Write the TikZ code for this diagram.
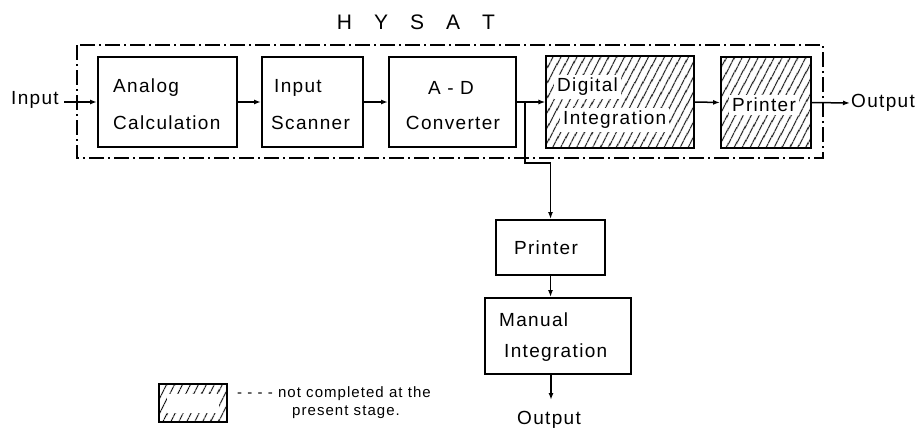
\documentclass[tikz,border=0pt]{standalone}
\usepackage{fontspec}
\newfontfamily\df{Liberation Sans}[LetterSpace=7]
\newfontfamily\tf{Liberation Sans}
\usetikzlibrary{arrows.meta,patterns.meta}
\begin{document}
\begin{tikzpicture}[x=1pt,y=-1pt,
  box/.style={draw,line width=1.9pt,minimum width=#1,inner sep=0pt},
  hatch/.style={pattern={Lines[angle=62,distance=6.5pt,line width=1.1pt]}},
  lbl/.style={font=\df\fontsize{19}{22}\selectfont,inner sep=1pt},
  wl/.style={lbl,fill=white,inner sep=3pt},
  arr/.style={line width=1.5pt,-{Latex[length=7pt,width=5pt]}},
  frame/.style={line width=1.6pt,dash pattern=on 15pt off 4pt on 2pt off 4pt}]
\useasboundingbox (0,0) rectangle (919,431);
% title
\node[font=\tf\fontsize{21}{24}\selectfont] (title) at (416,22) {H\hspace{22pt}Y\hspace{22pt}S\hspace{22pt}A\hspace{22pt}T};
% frame
\draw[frame] (77,45) rectangle (823,158);
% boxes
\node[box=139pt,minimum height=90pt] (ana) at (167.5,102) {};
\node[box=101pt,minimum height=90pt] (scan) at (312.5,102) {};
\node[box=127pt,minimum height=90pt] (adc) at (452.5,102) {};
\node[box=148pt,minimum height=92pt,hatch] (dig) at (620,102) {};
\node[box=90pt,minimum height=91pt,hatch] (pr1) at (766,102.5) {};
\node[box=109pt,minimum height=55pt] (pr2) at (550.5,247.5) {};
\node[box=146pt,minimum height=76pt] (man) at (558,336) {};
% labels
\node[lbl,anchor=west] (t1) at (112,88) {Analog};
\node[lbl,anchor=west] (t2) at (112,123) {Calculation};
\node[lbl,anchor=west] (t3) at (273,88) {Input};
\node[lbl,anchor=west] (t4) at (270,123) {Scanner};
\node[lbl] (t5) at (451,88) {A - D};
\node[lbl] (t6) at (453,123) {Converter};
\node[wl,anchor=west] (t7) at (554,87) {Digital};
\node[wl,anchor=west] (t8) at (560,120) {Integration};
\node[wl] (t9) at (764,105) {Printer};
\node[lbl] (t10) at (546,248) {Printer};
\node[lbl,anchor=west] (t11) at (498,320) {Manual};
\node[lbl,anchor=west] (t12) at (503,353) {Integration};
\node[lbl] (in) at (35,100) {Input};
\node[lbl,anchor=west] (out1) at (850,103) {Output};
\node[lbl] (out2) at (549,420) {Output};
% connectors
\coordinate (inend) at (64,102);
\draw[arr] (inend) -- (ana.west |- inend);
\draw[arr] (ana.east) -- (scan.west);
\draw[arr] (scan.east) -- (adc.west);
\draw[arr] (adc.east) -- (dig.west);
\draw[arr] (dig.east) -- (pr1.west);
\draw[arr] (pr1.east) -- (out1.west);
\coordinate (br) at (525,102);
\draw[arr] (br) -- ++(0,61) -| (pr2.north);
\draw[arr] (pr2.south) -- (pr2.south |- man.north);
\coordinate (mout) at (551,400);
\draw[arr] (man.south -| mout) -- (mout);
% legend
\node[box=68pt,minimum height=38pt,hatch] (leg) at (193,403) {};
\fill[white] (167,394) rectangle (219,413);
\node[font=\df\fontsize{15}{17}\selectfont,anchor=west,inner sep=0pt] (lt1) at (237,394) {- - - - not completed at the};
\node[font=\df\fontsize{15}{17}\selectfont,anchor=west,inner sep=0pt] (lt2) at (292,412) {present stage.};
\end{tikzpicture}
\end{document}
